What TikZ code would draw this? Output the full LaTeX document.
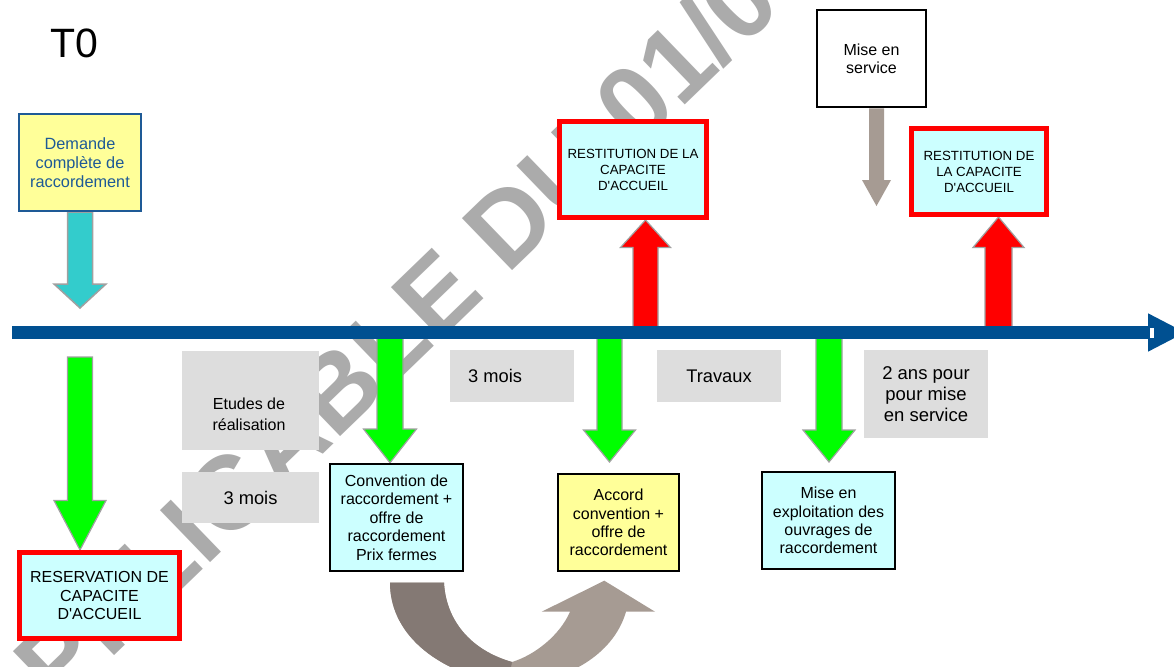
\documentclass[tikz,border=0pt]{standalone}
\usepackage{fontspec}
\setmainfont{Liberation Sans}
\usetikzlibrary{positioning,calc}

\pgfdeclarelayer{wmlayer}
\pgfdeclarelayer{arrowlayer}
\pgfsetlayers{wmlayer,arrowlayer,main}

\definecolor{tlblue}{RGB}{0,80,145}
\definecolor{dblue}{RGB}{30,90,150}
\definecolor{lcyan}{RGB}{204,255,255}
\definecolor{lyellow}{RGB}{255,255,153}
\definecolor{lgray}{RGB}{221,221,221}
\definecolor{wmgray}{RGB}{171,171,171}
\definecolor{arrowedge}{RGB}{160,160,160}
\definecolor{taupe}{RGB}{166,155,147}
\definecolor{taupedark}{RGB}{132,121,116}
\definecolor{turq}{RGB}{51,204,204}

\tikzset{
  box/.style={draw, line width=2pt, fill=lcyan, inner sep=0pt, align=center,
    font=\fontsize{16}{18.4}\selectfont},
  redbox/.style={box, draw=red, line width=5pt},
  greybox/.style={fill=lgray, inner sep=0pt, align=center,
    font=\fontsize{18.3}{21.3}\selectfont},
  blockarrow/.style={draw=arrowedge, line width=1.2pt},
  wmark/.style={text=wmgray, inner sep=0pt, font=\fontsize{105}{105}\selectfont\bfseries},
}

% block arrow: tail, tip, shaft half width, head half width, head length
\newcommand{\blk}[6][]{%
  \coordinate (bt) at #2;
  \coordinate (bp) at #3;
  \coordinate (bb) at ($(bp)!#6pt!(bt)$);
  \draw[blockarrow,#1] ($(bt)!#4pt!90:(bp)$) -- ($(bb)!#4pt!90:(bp)$)
    -- ($(bb)!#5pt!90:(bp)$) -- (bp) -- ($(bb)!#5pt!-90:(bp)$)
    -- ($(bb)!#4pt!-90:(bp)$) -- ($(bt)!#4pt!-90:(bp)$) -- cycle;
}

% u-turn arrow below the boxes
\newcommand{\uturn}{(390,582.7) -- (444,582.7)
  .. controls (446,620) and (470,650) .. (512,662)
  .. controls (535,655) and (560,635) .. (570,611.7)
  -- (541.7,611.7) -- (604.3,580.7) -- (655,611.7) -- (626,611.7)
  .. controls (615,650) and (575,680) .. (512,686)
  .. controls (430,672) and (390,630) .. (390,582.7) -- cycle}

\begin{document}
\begin{tikzpicture}[x=1pt,y=-1pt]

  \useasboundingbox (0,0) rectangle (1174,666);
  \begin{pgfonlayer}{wmlayer}
    \fill[white] (0,0) rectangle (1174,666);
  \end{pgfonlayer}
  \clip (0,0) rectangle (1174,666);

  % T0
  \node[anchor=base west, inner sep=0pt, font=\fontsize{41}{41}\selectfont] (t0) at (50,58) {T0};

  % boxes
  \node[box, draw=dblue, fill=lyellow, text=dblue, minimum width=122pt, minimum height=97pt,
    font=\fontsize{16.3}{19}\selectfont] (dem) at (80,162.5) {Demande\\complète de\\raccordement};
  \node[redbox, minimum width=147pt, minimum height=96pt, font=\fontsize{13.3}{16}\selectfont] (rest1) at (633,169.5)
    {RESTITUTION DE LA\\CAPACITE\\D\textquotesingle ACCUEIL};
  \node[box, fill=white, line width=2.2pt, minimum width=109.5pt, minimum height=97.5pt] (mes) at (871.5,58.5) {Mise en\\service};
  \node[redbox, minimum width=135pt, minimum height=86pt, font=\fontsize{13.3}{16}\selectfont] (rest2) at (979,171.5)
    {RESTITUTION DE\\LA CAPACITE\\D\textquotesingle ACCUEIL};
  \node[redbox, minimum width=160pt, minimum height=86pt, font=\fontsize{16}{18.5}\selectfont] (resa) at (99.5,595.5)
    {RESERVATION DE\\CAPACITE\\D\textquotesingle ACCUEIL};
  \node[box, minimum width=133.5pt, minimum height=107.5pt] (conv) at (396.5,517.5)
    {Convention de\\raccordement +\\offre de\\raccordement\\Prix fermes};
  \node[box, fill=lyellow, minimum width=121.5pt, minimum height=97.5pt] (accord) at (618.5,522.5)
    {Accord\\convention +\\offre de\\raccordement};
  \node[box, minimum width=133.5pt, minimum height=97.5pt] (mee) at (828.5,520.5)
    {Mise en\\exploitation des\\ouvrages de\\raccordement};

  \begin{pgfonlayer}{wmlayer}
    % watermark
    \node[wmark, anchor=base west, rotate=44] (wm) at (4.3,761.7) {APPLICABLE DU 01/0};

    % grey periods
    \node[greybox, minimum width=137pt, minimum height=99pt] (etud) at (250.5,400.5) {};
    \node[align=center, inner sep=0pt, font=\fontsize{16}{20.7}\selectfont] (etudtxt) at (249,414) {Etudes de\\réalisation};
    \node[greybox, minimum width=137pt, minimum height=51pt] (mois1) at (250.5,497.5) {3 mois};
    \node[greybox, minimum width=124pt, minimum height=52pt] (mois2) at (512,376) {};
    \node[anchor=west, inner sep=0pt, font=\fontsize{18.3}{21}\selectfont] (mois2txt) at (468,376) {3 mois};
    \node[greybox, minimum width=124pt, minimum height=52pt] (trav) at (719,376) {Travaux};
    \node[greybox, minimum width=124pt, minimum height=88pt, font=\fontsize{18.5}{21.3}\selectfont] (deuxans) at (926,394) {2 ans pour\\pour mise\\en service};
  \end{pgfonlayer}

  % timeline
  \coordinate (tlstart) at (12,332.5);
  \coordinate (tlend) at (1148,332.5);
  \coordinate (tltip) at (1185,332.5);

  \begin{pgfonlayer}{arrowlayer}
    % arrows
    \coordinate (demtip) at (80,308);
    \blk[fill=turq, line width=1.5pt]{(80,0 |- dem.south)}{(demtip)}{12.5}{26}{24}
    \blk[fill=red]{(645.5,0 |- tlstart)}{(645.5,0 |- rest1.south)}{12.5}{25}{27.5}
    \blk[fill=red]{(998.5,0 |- tlstart)}{(998.5,0 |- rest2.south)}{13.5}{25.5}{30.5}
    \coordinate (mestip) at (876.5,206);
    \blk[fill=taupe, draw=none]{(876.5,0 |- mes.south)}{(mestip)}{7.5}{14.5}{26}
    \coordinate (resatail) at (80,357);
    \blk[fill=green]{(resatail)}{(80,0 |- resa.north)}{12.5}{26}{49.5}
    \blk[fill=green]{(390,0 |- tlstart)}{(390,0 |- conv.north)}{13}{26.5}{33.75}
    \coordinate (accordtip) at (609.5,462);
    \blk[fill=green]{(609.5,0 |- tlstart)}{(accordtip)}{12.5}{26}{32}
    \coordinate (meetip) at (829,462);
    \blk[fill=green]{(829,0 |- tlstart)}{(meetip)}{13}{26}{32}

    \draw[tlblue, line width=13pt] (tlstart) -- (tlend);
    \fill[tlblue] ($(tlend)+(0,-19.2)$) -- (tltip) -- ($(tlend)+(0,19.2)$) -- cycle;
    \fill[white] ($(tlend)+(1.5,-5)$) rectangle ($(tlend)+(5.5,5)$);
  \end{pgfonlayer}

  % u-turn from convention to accord
  \fill[taupe] \uturn;
  \begin{scope}
    \clip (380,575) -- (500,575) -- (512,662) -- (505,700) -- (380,700) -- cycle;
    \fill[taupedark] \uturn;
  \end{scope}

\end{tikzpicture}
\end{document}
